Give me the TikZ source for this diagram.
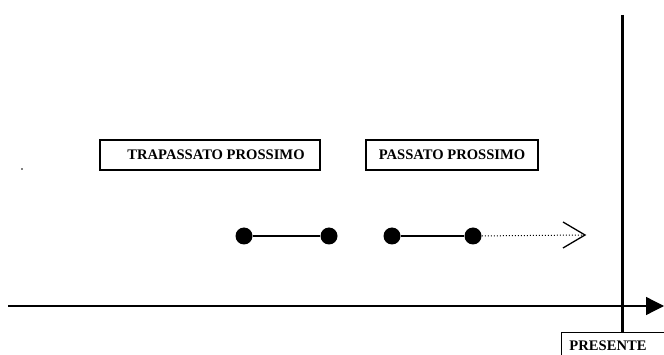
\documentclass[tikz,border=0pt]{standalone}
\usepackage{fontspec}
\setmainfont{Liberation Serif}
\usetikzlibrary{arrows.meta,positioning}

\begin{document}
\begin{tikzpicture}[x=1pt,y=-1pt,>=Stealth,thick,
    label box/.style={draw,line width=1.2pt,minimum height=30pt,inner sep=0pt,font=\bfseries\fontsize{14.6}{16}\selectfont},
    main dot/.style={circle,fill=black,inner sep=0pt,minimum size=17pt}]

                \useasboundingbox (0,0) rectangle (664,355);

                \node[label box, minimum width=220pt] (trap) at (210,155) {\hspace*{12pt}TRAPASSATO PROSSIMO};
                \node[label box, minimum width=172pt] (pass) at (452,155) {PASSATO PROSSIMO};

                \node[main dot] (1) at (244,236) {};
                \node[main dot] (2) at (329,236) {};
                \node[main dot] (3) at (392,236) {};
                \node[main dot] (4) at (473,236) {};
                \coordinate (5) at (585,235);

                \coordinate (a) at (8,306);
                \coordinate (b) at (664,306);
                \coordinate (t) at (622,15);

                \begin{scope}
                \clip (0,0) rectangle (664,355);
                \node[draw, line width=1.2pt, anchor=north west, minimum width=120pt, minimum height=40pt] (pres) at (561,332) {};
                \end{scope}
                \node[font=\bfseries\fontsize{14.6}{16}\selectfont] (prestext) at (608,346) {PRESENTE};

                \draw[line width=1.4pt] (1) to (2);
                \draw[line width=1.4pt] (3) to (4);
                \draw[line width=1pt, dotted] (4) to (5);
                \draw[line width=1.3pt] ([shift={(-22,-13)}]5) -- (5) -- ([shift={(-22,13)}]5);

                \draw[line width=1.3pt, -{Triangle[length=18pt,width=18pt]}] (a) to (b);
                \draw[line width=3pt] (t) to (pres.north west -| t);

                \fill (22,169) circle (0.9pt);
            \end{tikzpicture}
\end{document}
